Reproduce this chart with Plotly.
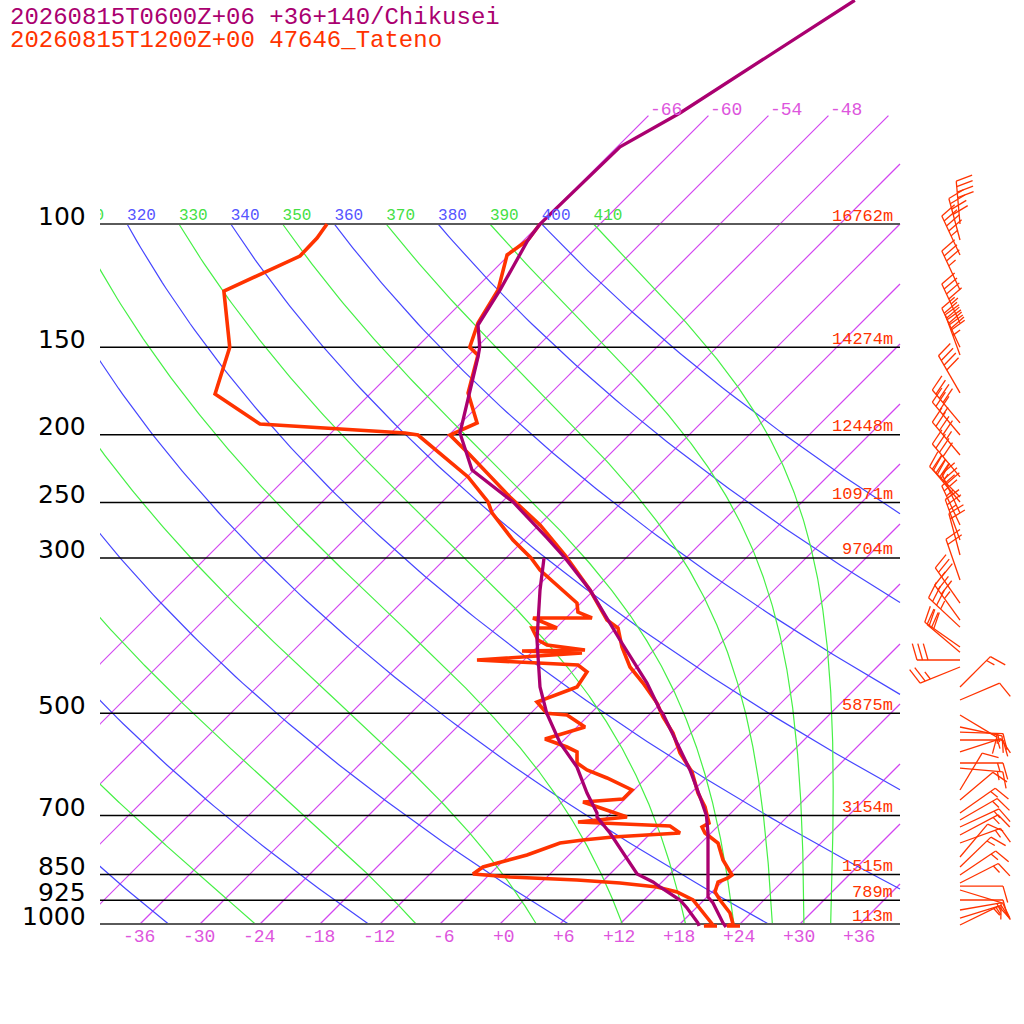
import numpy as np
import plotly.graph_objects as go

# ---------------- data ----------------
title_chik = "20260815T0600Z+06 +36+140/Chikusei"
title_tate = "20260815T1200Z+00 47646_Tateno"

# Chikusei (model) temperature profile: pressure hPa, temperature degC
chik_T_p = [47.9, 69.4, 77.6, 100, 105.4, 124.2, 139.4, 150, 154.9, 198.9, 224.6, 249.5,
            280.9, 300, 333.3, 392.9, 452.6, 494.6, 500, 551.3, 602.6, 658.5, 700, 741.3,
            845.5, 915.0, 933.3, 996.7, 1009.9]
chik_T = [-56.9, -63.1, -65.7, -66.0, -65.6, -63.4, -62.1, -59.7, -58.9, -53.1, -48.2, -40.9,
          -33.9, -30.1, -24.4, -16.4, -9.4, -5.4, -4.8, -0.4, 3.6, 7.3, 9.8, 11.7,
          15.7, 18.1, 19.2, 22.2, 22.9]
# Chikusei dew point
chik_Td_p = [300, 333.3, 392.9, 458.6, 500, 551.3, 596.7, 649.9, 694.1, 703.3, 741.3, 791.7,
             848.0, 870.9, 885.4, 924.1, 948.7, 996.7, 1006.6]
chik_Td = [-32.2, -29.4, -24.7, -19.7, -16.4, -12.1, -8.0, -4.4, -1.4, -1.0, 1.9, 5.2,
           8.7, 11.1, 12.3, 15.6, 17.1, 19.7, 20.1]

# Tateno (sonde) temperature
tate_T_p = [100, 105.4, 110.7, 124.2, 138.5, 150, 153.9, 174.3, 192.4, 200.2, 213.8, 245.5,
            269.1, 297.1, 333.3, 359.5, 367.9, 377.7, 402.1, 429.4, 452.6, 483.4, 506.1,
            533.5, 569.8, 606.5, 649.9, 680.5, 700, 717.3, 726.8, 741.3, 766.1, 810.2,
            851.1, 859.6, 870.9, 900.1, 924.1, 964.5, 1000, 1006.6, 1006.6]
tate_T = [-66.0, -65.6, -66.2, -63.6, -62.3, -60.7, -59.1, -56.3, -52.4, -53.9, -49.9, -41.7,
          -35.9, -30.4, -24.4, -20.8, -19.7, -17.8, -15.5, -12.7, -9.8, -6.4, -4.4,
          -1.8, 0.9, 4.0, 6.7, 8.8, 9.9, 10.8, 10.5, 11.4, 13.7, 15.9,
          18.3, 18.2, 17.6, 18.3, 19.6, 21.9, 23.3, 22.9, 24.2]
# Tateno dew point
tate_Td_p = [100, 104.7, 111.1, 124.7, 150, 174.9, 193.1, 198.9, 200.2, 229.8, 249.5, 258.7,
             282.8, 300, 312.1, 347.9, 358.4, 365.5, 365.5, 377.7, 377.7, 392.9, 399.4,
             406.1, 407.4, 410.1, 419.6, 426.6, 436.5, 458.6, 481.8, 500, 502.8, 523.1,
             544.1, 558.7, 567.9, 588.8, 602.6, 618.6, 643.5, 662.8, 669.4, 682.8, 703.3,
             715.0, 724.4, 741.3, 751.1, 758.6, 766.1, 796.9, 829.0, 848.3, 856.8, 865.3,
             873.8, 885.4, 900.1, 924.1, 977.2, 1003.3, 1006.6, 1006.6]
tate_Td = [-87.3, -86.9, -86.8, -90.9, -84.7, -81.5, -74.0, -58.6, -57.1, -47.9, -43.4, -41.9,
           -37.1, -33.5, -31.4, -24.4, -23.4, -21.4, -27.3, -23.9, -26.4, -24.6, -23.2,
           -18.9, -25.1, -18.9, -28.7, -18.1, -16.5, -16.0, -18.5, -16.4, -14.2, -11.2,
           -14.0, -11.0, -9.5, -8.4, -6.7, -3.9, -0.2, -0.2, -3.9, -1.6, 2.0,
           -2.4, 7.2, 8.9, 2.6, -0.1, -2.1, -4.2, -7.4, -7.7, -3.7, 3.3,
           7.9, 12.0, 14.5, 16.9, 20.0, 21.4, 20.6, 21.9]

# Tateno winds: pressure hPa, direction deg, speed kt
wind_p = [100, 105.4, 110.7, 124.2, 138.5, 150, 153.9, 174.3, 192.4, 200.2, 213.8, 229.8,
          245.5, 249.5, 258.7, 269.1, 282.8, 297.1, 322.5, 348.0, 367.9, 376.6, 402.0,
          409.0, 419.6, 429.4,
          458.6, 478.6, 502.8, 523.1, 531.8, 545.9, 567.9, 588.8, 598.7, 643.5, 665.0,
          694.1, 710.4, 726.8, 746.2, 766.1, 802.2, 829.0, 851.1, 873.8, 883.0, 894.2,
          924.1, 955.0, 980.5, 1003.3]
wind_dir = [355, 345, 335, 335, 335, 335, 340, 330, 320, 320, 320, 320,
            315, 320, 335, 335, 340, 345, 341, 325, 324, 313, 305,
            310, 270, 248,
            45, 67, 121, 102, 92, 90, 72, 90, 95, 31, 50,
            55, 60, 65, 62, 70, 40, 46, 56, 63, 90, 107,
            90, 80, 73, 64]
wind_spd = [40, 40, 45, 35, 45, 50, 45, 40, 40, 35, 45, 40,
            40, 35, 30, 25, 25, 20, 20, 30, 35, 35, 30,
            20, 30, 25,
            15, 10, 10, 15, 15, 15, 10, 15, 15, 10, 10,
            15, 15, 15, 15, 15, 10, 15, 15, 15, 10, 10,
            10, 15, 15, 15]

isobars = [100, 150, 200, 250, 300, 500, 700, 850, 925, 1000]
heights = ["16762m", "14274m", "12448m", "10971m", "9704m", "5875m", "3154m", "1515m", "789m", "113m"]
isotherms = list(range(-66, 37, 6))
dry_thetas = list(range(240, 401, 20))
moist_thetas = list(range(250, 411, 20))

# ---------------- chart constants ----------------
SKEW = 70.0          # x units per decade of pressure
XMIN, XMAX = -40.0, 40.0
C_CHIK = "#aa0070"
C_TATE = "#ff3300"
C_ISO = "rgb(210,70,240)"
C_DRY = "rgb(70,70,255)"
C_MOIST = "rgb(70,240,70)"
MONO = "Liberation Mono, Courier New, monospace"

Rd, Cp, Lv, EPS = 287.04, 1005.7, 2.501e6, 0.622
KAPPA = Rd / Cp


def sx(T, p):
    return np.asarray(T, float) + SKEW * np.log10(1000.0 / np.asarray(p, float))


def clip_right(xs, ps, xmax=XMAX):
    """keep the parts of a polyline with x <= xmax"""
    ox, op = [], []
    for i in range(len(xs)):
        inside = xs[i] <= xmax
        if i > 0:
            prev_in = xs[i - 1] <= xmax
            if inside != prev_in:
                f = (xmax - xs[i - 1]) / (xs[i] - xs[i - 1])
                lp = np.log10(ps[i - 1]) + f * (np.log10(ps[i]) - np.log10(ps[i - 1]))
                ox.append(float(xmax)); op.append(float(10 ** lp))
                if not inside:
                    ox.append(None); op.append(None)
        if inside:
            ox.append(float(xs[i])); op.append(float(ps[i]))
    return ox, op


def dTdp(T, p):
    es = 6.112 * np.exp(17.67 * (T - 273.15) / (T - 29.65))
    rs = EPS * es / (p - es)
    num = Rd * T + Lv * rs
    den = Cp + Lv * Lv * rs * EPS / (Rd * T * T)
    return num / (p * den)


def moist_line(theta):
    ps = np.linspace(100.0, 1000.0, 451)
    T = theta * (0.1) ** KAPPA
    Ts = [T]
    for i in range(len(ps) - 1):
        p, h = ps[i], ps[i + 1] - ps[i]
        k1 = dTdp(T, p)
        k2 = dTdp(T + 0.5 * h * k1, p + 0.5 * h)
        k3 = dTdp(T + 0.5 * h * k2, p + 0.5 * h)
        k4 = dTdp(T + h * k3, p + h)
        T = T + h * (k1 + 2 * k2 + 2 * k3 + k4) / 6.0
        Ts.append(T)
    return ps, np.array(Ts) - 273.15


fig = go.Figure()

def add_line(xs, ps, color, width):
    fig.add_trace(go.Scatter(x=list(xs), y=list(ps), mode="lines", hoverinfo="skip",
                             showlegend=False, line=dict(color=color, width=width)))

# isotherms
ix, ip = [], []
for T in isotherms:
    ps = np.logspace(np.log10(1000), np.log10(70), 60)
    xx, pp = clip_right(sx(np.full_like(ps, float(T)), ps), ps)
    ix += xx + [None]; ip += pp + [None]
add_line(ix, ip, C_ISO, 1.2)

# dry adiabats
dx_, dp_ = [], []
for th in dry_thetas:
    ps = np.logspace(np.log10(1000), np.log10(100), 120)
    T = th * (ps / 1000.0) ** KAPPA - 273.15
    xx, pp = clip_right(sx(T, ps), ps)
    dx_ += xx + [None]; dp_ += pp + [None]
add_line(dx_, dp_, C_DRY, 1.2)

# moist adiabats
mx_, mp_ = [], []
for th in moist_thetas:
    ps, T = moist_line(th)
    xx, pp = clip_right(sx(T, ps), ps)
    mx_ += xx + [None]; mp_ += pp + [None]
add_line(mx_, mp_, C_MOIST, 1.2)

# isobars
for p in isobars:
    edge = p in (100, 1000)
    add_line([XMIN, XMAX], [p, p], "#5a5a5a" if edge else "black", 2.2 if edge else 1.5)

# profiles
add_line([float(v) for v in sx(tate_Td, tate_Td_p)], tate_Td_p, C_TATE, 3.6)
add_line([float(v) for v in sx(chik_Td, chik_Td_p)], chik_Td_p, C_CHIK, 3.3)
add_line([float(v) for v in sx(tate_T, tate_T_p)], tate_T_p, C_TATE, 3.6)
add_line([float(v) for v in sx(chik_T, chik_T_p)], chik_T_p, C_CHIK, 3.3)

# wind barbs (pixel sized, converted to data units)
ROOT_X = XMIN + 86.0       # 860 px right of the left edge
PX_X = 0.1                 # data x per pixel
PX_DEC = 1.0 / 700.0       # decades per pixel
bx, bp = [], []
L, LONG, SHORT, GAP = 43.0, 17.0, 9.0, 5.5
ang = np.radians(74)
for p0, wd, ws in zip(wind_p, wind_dir, wind_spd):
    th = np.radians(wd)
    ux, uy = np.sin(th), -np.cos(th)
    rx, ry = -uy, ux
    fx = np.cos(ang) * ux + np.sin(ang) * rx
    fy = np.cos(ang) * uy + np.sin(ang) * ry

    def pt(dx, dy):
        return float(ROOT_X + dx * PX_X), float(p0 * 10 ** (dy * PX_DEC))
    segs = [((0, 0), (L * ux, L * uy))]
    pos = L
    for k in range(int(ws // 10)):
        sxp, syp = pos * ux, pos * uy
        segs.append(((sxp, syp), (sxp + LONG * fx, syp + LONG * fy)))
        pos -= GAP
    if ws % 10 >= 5:
        if pos == L:
            pos -= GAP
        sxp, syp = pos * ux, pos * uy
        segs.append(((sxp, syp), (sxp + SHORT * fx, syp + SHORT * fy)))
    for a, b in segs:
        xa, pa = pt(*a); xb, pb = pt(*b)
        bx += [xa, xb, None]; bp += [pa, pb, None]
add_line(bx, bp, C_TATE, 1.3)

# theta labels at 100 hPa (clipped to plot area; only those reaching into it)
lab_x, lab_t, lab_c = [], [], []
for ths, col in ((moist_thetas, "#44e044"), (dry_thetas, "#5555ff")):
    for th in ths:
        xl = float(sx(th * 0.1 ** KAPPA - 273.15, 100))
        if xl > XMIN - 2.8:
            lab_x.append(xl); lab_t.append(str(th)); lab_c.append(col)
fig.add_trace(go.Scatter(x=lab_x, y=[100] * len(lab_x), mode="text", text=lab_t,
                         textposition="top right", hoverinfo="skip", showlegend=False,
                         textfont=dict(family=MONO, size=16, color=lab_c)))

annotations = []
# isotherm labels at top
for T in isotherms:
    xt = float(sx(T, 70))
    if XMIN <= xt <= 34:
        annotations.append(dict(x=xt, y=np.log10(70), xref="x", yref="y", text="%d" % T,
                                showarrow=False, xanchor="left", yanchor="middle", yshift=6,
                                font=dict(family=MONO, size=18, color="#dd55dd")))
# temperature labels at bottom
for T in isotherms:
    if XMIN < T < XMAX:
        txt = ("%+d" % T) if T != 0 else "+0"
        annotations.append(dict(x=T + 1.7, y=-0.0075, xref="x", yref="paper", text=txt,
                                showarrow=False, xanchor="right", yanchor="middle",
                                font=dict(family=MONO, size=18, color="#dd55dd")))
# pressure labels and heights
for p, h in zip(isobars, heights):
    annotations.append(dict(x=-12 / 924.0, y=np.log10(p), xref="paper", yref="y", text=str(p),
                            showarrow=False, xanchor="right", yanchor="middle", yshift=8,
                            font=dict(family="DejaVu Sans, sans-serif", size=25, color="black")))
    annotations.append(dict(x=39.5, y=np.log10(p), xref="x", yref="y", text=h,
                            showarrow=False, xanchor="right", yanchor="middle", yshift=8,
                            font=dict(family=MONO, size=17, color=C_TATE)))
# titles
annotations.append(dict(x=-92 / 924.0, y=(930 - 17) / 930.0, xref="paper", yref="paper",
                        text=title_chik, showarrow=False, xanchor="left", yanchor="middle",
                        font=dict(family=MONO, size=24, color=C_CHIK)))
annotations.append(dict(x=-92 / 924.0, y=(930 - 41) / 930.0, xref="paper", yref="paper",
                        text=title_tate, showarrow=False, xanchor="left", yanchor="middle",
                        font=dict(family=MONO, size=24, color=C_TATE)))

fig.update_layout(
    width=1024, height=1024,
    margin=dict(l=100, r=0, t=0, b=94, pad=0),
    paper_bgcolor="white", plot_bgcolor="white",
    xaxis=dict(range=[XMIN, XMIN + 92.4], visible=False, fixedrange=True),
    yaxis=dict(type="log", range=[np.log10(1000 * np.exp(6 / 304.0)), np.log10(1000 * np.exp(-924 / 304.0))],
               visible=False, fixedrange=True),
    annotations=annotations,
    showlegend=False,
)

fig.write_html("out.html", config={"displayModeBar": False},
               post_script="document.body.style.margin='0';document.body.style.overflow='hidden';")
